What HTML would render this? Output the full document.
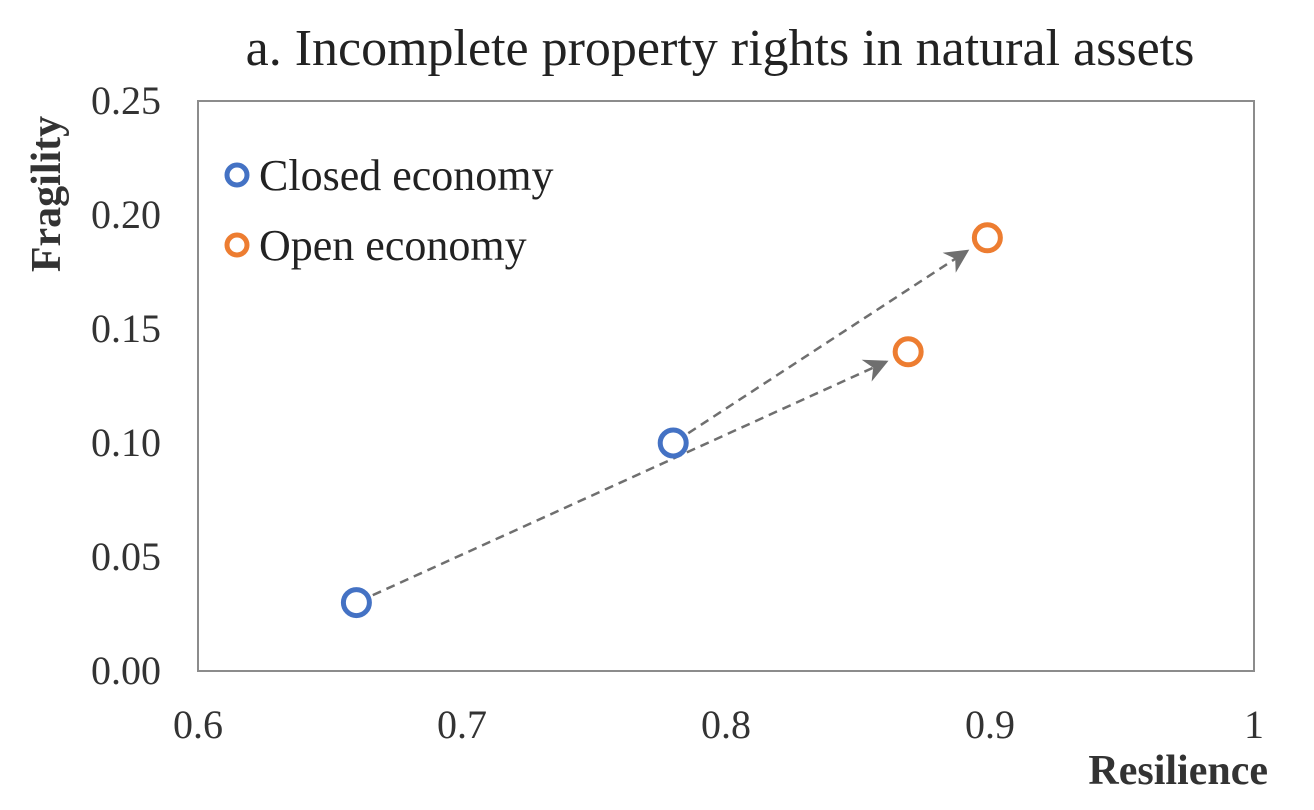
<!DOCTYPE html>
<html><head><meta charset="utf-8"><style>
html,body{margin:0;padding:0;background:#fff;}
svg{display:block;font-family:"Liberation Serif",serif;}
</style></head><body>
<svg id="chart" width="1314" height="810" viewBox="0 0 1314 810">
<defs><marker id="ah" viewBox="0 0 10 10" refX="9" refY="5" markerWidth="9" markerHeight="9" markerUnits="userSpaceOnUse" orient="auto"><path d="M0,0 L10,5 L0,10 z" fill="#6f6f6f"/></marker>
<marker id="ah2" viewBox="0 0 10 10" refX="9" refY="5" markerWidth="24" markerHeight="24" markerUnits="userSpaceOnUse" orient="auto"><path d="M0,0 L10,5 L0,10 L3,5 z" fill="#6f6f6f"/></marker></defs>
<text x="720" y="65" font-size="52" text-anchor="middle" fill="#222">a. Incomplete property rights in natural assets</text>
<rect x="198" y="101" width="1056" height="570" fill="none" stroke="#8c8c8c" stroke-width="2"/>
<g id="xt"></g><g id="yt"></g><g id="arrows"></g><g id="pts"></g>
<text x="1268" y="784" font-size="42" font-weight="bold" text-anchor="end" fill="#333">Resilience</text>
<text transform="translate(60,194) rotate(-90)" font-size="42" font-weight="bold" text-anchor="middle" fill="#333">Fragility</text>
<g>
<circle cx="237" cy="175" r="10" fill="#fff" stroke="#4472c4" stroke-width="5"/>
<text x="259" y="190" font-size="44" fill="#222">Closed economy</text>
<circle cx="237" cy="245" r="10" fill="#fff" stroke="#ed7d31" stroke-width="5"/>
<text x="259" y="260" font-size="44" fill="#222">Open economy</text>
</g>
</svg>
<script>
const xTicks=[0.6,0.7,0.8,0.9,1];
const xTickLabels=["0.6","0.7","0.8","0.9","1"];
const yTicks=[0,0.05,0.10,0.15,0.20,0.25];
const yTickLabels=["0.00","0.05","0.10","0.15","0.20","0.25"];
const closedX=[0.66,0.78];
const closedY=[0.03,0.10];
const openX=[0.869,0.899];
const openY=[0.14,0.19];
const arrowFrom=[0,1];
const arrowTo=[0,1];
const X=v=>198+(v-0.6)/0.4*1056;
const Y=v=>671-v/0.25*570;
const ns="http://www.w3.org/2000/svg";
function mk(t,a,p){const e=document.createElementNS(ns,t);for(const k in a)e.setAttribute(k,a[k]);p.appendChild(e);return e;}
const xt=document.getElementById('xt'),yt=document.getElementById('yt');
xTicks.forEach((v,i)=>{const t=mk('text',{x:X(v),y:738,'font-size':40,'text-anchor':'middle',fill:'#333'},xt);t.textContent=xTickLabels[i];

});
yTicks.forEach((v,i)=>{const t=mk('text',{x:161,y:Y(v)+13,'font-size':40,'text-anchor':'end',fill:'#333'},yt);t.textContent=yTickLabels[i];

});
const ar=document.getElementById('arrows');
arrowFrom.forEach((f,i)=>{const x1=X(closedX[f]),y1=Y(closedY[f]),x2=X(openX[arrowTo[i]]),y2=Y(openY[arrowTo[i]]);
const dx=x2-x1,dy=y2-y1,L=Math.hypot(dx,dy);
const l=mk('line',{x1:x1+dx/L*18,y1:y1+dy/L*18,x2:x2-dx/L*24,y2:y2-dy/L*24,stroke:'#6f6f6f','stroke-width':2.5,'stroke-dasharray':'9,6','marker-end':'url(#ah2)'},ar);

});
const pg=document.getElementById('pts');
closedX.forEach((v,i)=>{const c=mk('circle',{cx:X(v),cy:Y(closedY[i]),r:13,fill:'#fff',stroke:'#4472c4','stroke-width':5},pg);

});
openX.forEach((v,i)=>{const c=mk('circle',{cx:X(v),cy:Y(openY[i]),r:13,fill:'#fff',stroke:'#ed7d31','stroke-width':5},pg);

});
</script>
</body></html>
